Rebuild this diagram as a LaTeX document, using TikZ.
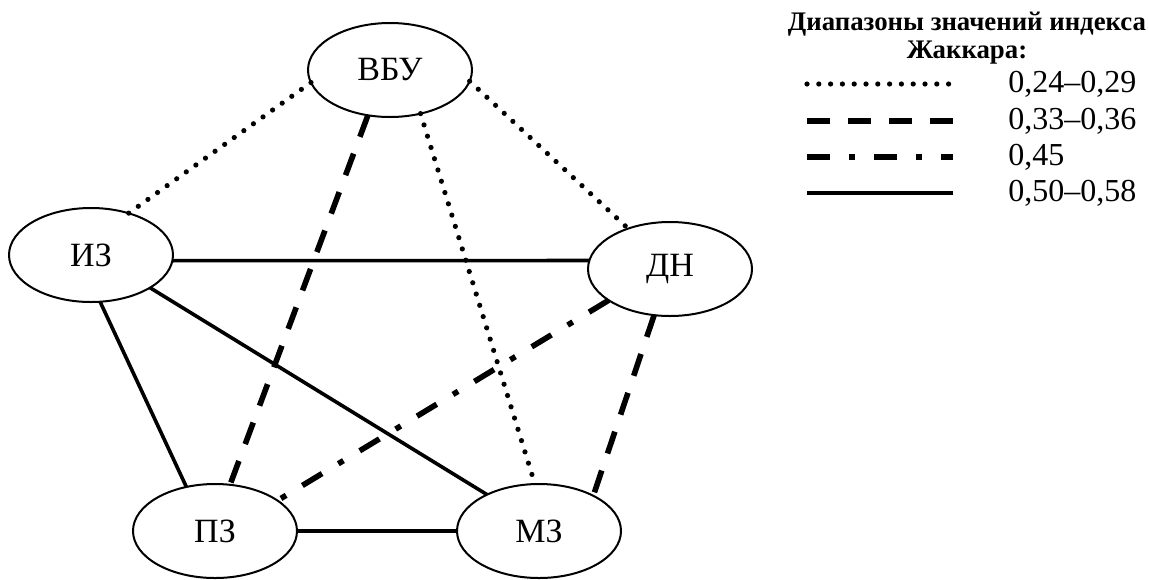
\documentclass[tikz,border=0pt]{standalone}
\usepackage{fontspec}
\setmainfont{Liberation Serif}
\usetikzlibrary{shapes.geometric}

\tikzset{
    zone/.style={ellipse,draw,line width=1pt,minimum width=82pt,minimum height=47pt,inner sep=0pt,outer sep=0pt,font=\fontsize{17}{19}\selectfont},
    lowj/.style={line width=2.6pt,line cap=round,dash pattern=on 0pt off 5.9pt},
    midj/.style={line width=2.8pt,dash pattern=on 11.5pt off 9pt},
    dotj/.style={line width=2.8pt,dash pattern=on 11.5pt off 9.5pt on 3pt off 9.5pt},
    highj/.style={line width=1.8pt},
    legtext/.style={anchor=west,inner sep=0pt,font=\fontsize{16}{18}\selectfont}
}

\begin{document}
\begin{tikzpicture}[x=0.5pt,y=-0.5pt]
        \useasboundingbox (0,0) rectangle (1149,579);
        % nodes
        \node[zone] (vbu) at (390,70) {ВБУ};
        \node[zone] (iz) at (91,255) {ИЗ};
        \node[zone] (dn) at (670,269) {ДН};
        \node[zone] (pz) at (215,531) {ПЗ};
        \node[zone] (mz) at (539,531) {МЗ};
        % edges
        \draw[lowj] (vbu.189) -- (iz.48);
        \draw[lowj] (vbu.-8) -- (dn.136);
        \draw[lowj] (vbu.-55) -- (mz.95);
        \draw[midj] (vbu.244) -- (pz.72);
        \draw[midj] (dn.251) -- (mz.33);
        \draw[dotj] (dn.207) -- (pz.26);
        \draw[highj] (iz.-4) -- (dn.174);
        \draw[highj] (iz.281) -- (pz.123);
        \draw[highj] (iz.-29) -- (mz.145);
        \draw[highj] (pz.east) -- (mz.west);
        % legend
        \node[anchor=base,inner sep=0pt,font=\fontsize{13.4}{15}\selectfont\bfseries] (title1) at (967,30) {Диапазоны значений индекса};
        \node[anchor=base,inner sep=0pt,font=\fontsize{13.4}{15}\selectfont\bfseries] (title2) at (967,58) {Жаккара:};
        \draw[lowj] (807,84) -- (953,84);
        \draw[midj] (807,121) -- (953,121);
        \draw[dotj] (807,157) -- (953,157);
        \draw[highj] (807,193) -- (953,193);
        \node[legtext] (l1) at (1008,84) {0,24–0,29};
        \node[legtext] (l2) at (1008,121) {0,33–0,36};
        \node[legtext] (l3) at (1008,157) {0,45};
        \node[legtext] (l4) at (1008,193) {0,50–0,58};
    \end{tikzpicture}
\end{document}
